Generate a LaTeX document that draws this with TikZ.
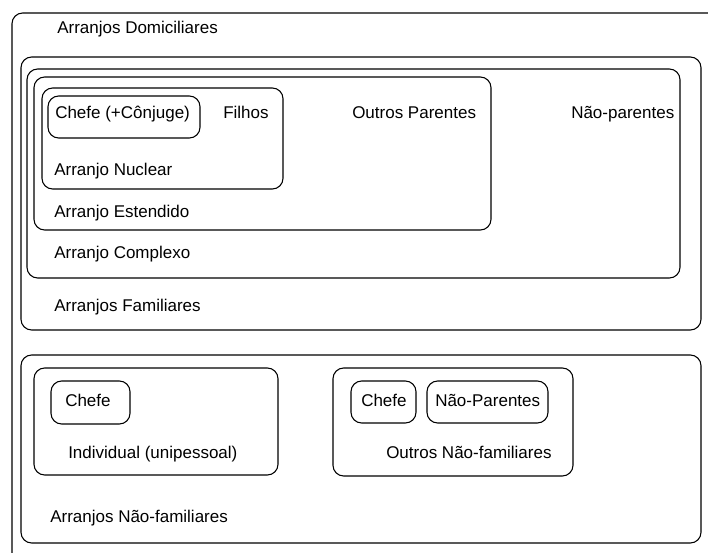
\documentclass[tikz,border=0pt]{standalone}
\usepackage{fontspec}
\setmainfont{Liberation Sans}
\tikzset{
  box/.style={draw, line width=0.8pt, rounded corners=8},
  lbl/.style={anchor=base west, inner sep=0pt, font=\fontsize{12.75}{15}\selectfont},
}
\begin{document}
\begin{tikzpicture}[x=0.75pt,y=-0.75pt]
      \useasboundingbox (0,0) rectangle (708,553);
      % nested boxes
      \draw[box] (12,13) rectangle (760,600);
      \draw[box] (21,57) rectangle (701,330);
      \draw[box] (27,69) rectangle (680,278);
      \draw[box] (34,77) rectangle (491,230);
      \draw[box] (42,88) rectangle (283,189);
      \draw[box] (48,96) rectangle (200,138);
      \draw[box] (21,355) rectangle (701,543);
      \draw[box] (34,368) rectangle (278,475);
      \draw[box] (51,381) rectangle (130,424);
      \draw[box] (333,368) rectangle (573,476);
      \draw[box] (351,381) rectangle (416,423);
      \draw[box] (427,381) rectangle (548,423);
      % labels
      \draw
        (57,33) node[lbl] (dom){Arranjos Domiciliares}
        (55,118) node[lbl] (chefeconj){Chefe (+Cônjuge)}
        (223,118) node[lbl] (filhos){Filhos}
        (352,118) node[lbl] (outrospar){Outros Parentes}
        (571,118) node[lbl] (naopar){Não-parentes}
        (54,175) node[lbl] (nuclear){Arranjo Nuclear}
        (54,217) node[lbl] (estendido){Arranjo Estendido}
        (54,258) node[lbl] (complexo){Arranjo Complexo}
        (54,311) node[lbl] (familiares){Arranjos Familiares}
        (65,406) node[lbl] (chefeind){Chefe}
        (68,458) node[lbl] (individual){Individual (unipessoal)}
        (361,406) node[lbl] (chefeout){Chefe}
        (435,406) node[lbl] (naoparout){Não-Parentes}
        (386,458) node[lbl] (outrosnf){Outros Não-familiares}
        (50,522) node[lbl] (naofam){Arranjos Não-familiares};
    \end{tikzpicture}
\end{document}
